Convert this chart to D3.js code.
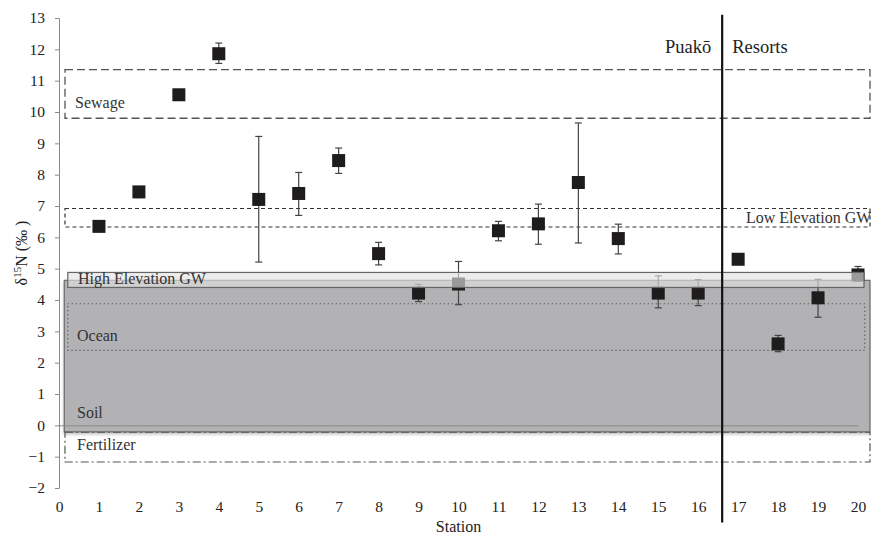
<!DOCTYPE html>
<html>
<head>
<meta charset="utf-8">
<script src="https://cdn.jsdelivr.net/npm/d3@7"></script>
<style>
  body { margin: 0; background: #fff; }
  svg { display: block; font-family: "Liberation Serif", "Times New Roman", serif; }
  .axis path, .axis line { stroke: #8a8a8a; }
  .axis text { font-family: "Liberation Serif", serif; font-size: 15.5px; fill: #222; }
</style>
</head>
<body>
<svg width="871" height="536"></svg>
<script>
// station values (delta 15N, per mil) with error bar ends, null = no bar
var stations = [1, 2, 3, 4, 5, 6, 7, 8, 9, 10, 11, 12, 13, 14, 15, 16, 17, 18, 19, 20];
var d15N    = [6.35, 7.45, 10.55, 11.86, 7.21, 7.4, 8.45, 5.48, 4.22, 4.51, 6.21, 6.43, 7.75, 5.96, 4.22, 4.22, 5.3, 2.6, 4.07, 4.8];
var errLow  = [null, 7.27, null, 11.55, 5.21, 6.7, 8.04, 5.12, 3.95, 3.85, 5.89, 5.78, 5.82, 5.47, 3.75, 3.82, null, 2.35, 3.45, 4.6];
var errHigh = [null, 7.6, null, 12.2, 9.22, 8.07, 8.85, 5.84, 4.5, 5.23, 6.51, 7.06, 9.65, 6.42, 4.77, 4.65, null, 2.87, 4.66, 5.07];

// source ranges (y from low to high, x from start to end)
var sources   = ["Sewage", "Low Elevation GW", "Fertilizer", "Soil", "Ocean", "High Elevation GW"];
var srcLow    = [9.8, 6.33, -1.17, -0.21, 2.39, 4.4];
var srcHigh   = [11.35, 6.92, -0.22, 4.63, 3.88, 4.88];
var srcStart  = [0.15, 0.15, 0.15, 0.13, 0.22, 0.22];
var srcEnd    = [20.3, 20.3, 20.3, 20.3, 20.17, 20.15];

var yTicks = d3.range(-2, 14);
var xTicks = d3.range(0, 21);
var divider = 16.6;   // Puako / Resorts split

var svg = d3.select("svg");

var x = d3.scaleLinear().domain([0, 20]).range([59, 858]);
var y = d3.scaleLinear().domain([-2, 13]).range([488, 18]);

function box(i) {
  return svg.append("rect")
    .attr("x", x(srcStart[i]))
    .attr("y", y(srcHigh[i]))
    .attr("width", x(srcEnd[i]) - x(srcStart[i]))
    .attr("height", y(srcLow[i]) - y(srcHigh[i]));
}

// soil (grey band) with a soft shadow
var defs = svg.append("defs");
var f = defs.append("filter").attr("id", "shadow").attr("height", "130%");
f.append("feDropShadow").attr("dx", 0).attr("dy", 2).attr("stdDeviation", 1.5)
  .attr("flood-color", "#000").attr("flood-opacity", 0.25);

box(3).attr("fill", "#b2b2b4").attr("stroke", "#5a5a5a").attr("stroke-width", 1)
  .attr("filter", "url(#shadow)");

// dashed source boxes
box(0).attr("fill", "none").attr("stroke", "#555").attr("stroke-width", 1.3).attr("stroke-dasharray", "8,4");
box(1).attr("fill", "none").attr("stroke", "#333").attr("stroke-width", 1.2).attr("stroke-dasharray", "4,3");
box(2).attr("fill", "none").attr("stroke", "#555").attr("stroke-width", 1.2).attr("stroke-dasharray", "8,3,2,3");
box(4).attr("fill", "none").attr("stroke", "#444").attr("stroke-width", 1.2).attr("stroke-dasharray", "1,3");

// y axis
svg.append("g")
    .attr("class", "axis axis--y")
    .attr("transform", "translate(" + x(0) + ",0)")
    .call(d3.axisLeft(y).tickValues(yTicks).tickSize(4).tickPadding(10).tickSizeOuter(0).tickFormat(d3.format("d")));

// x axis sits on zero, labels pushed down to the bottom
var gx = svg.append("g")
    .attr("class", "axis axis--x")
    .attr("transform", "translate(0," + y(0) + ")")
    .call(d3.axisBottom(x).tickValues(xTicks).tickSize(0).tickSizeOuter(0));
gx.selectAll("text").attr("y", y(-2) - y(0) + 13);

// error bars
var pts = stations.map(function(s, i) {
  return {s: s, v: d15N[i], lo: errLow[i], hi: errHigh[i]};
});
var bars = svg.append("g").selectAll("g")
  .data(pts.filter(function(d) { return d.lo != null; }))
  .enter().append("g")
    .attr("stroke", "#444").attr("stroke-width", 1.2);
bars.append("line")
    .attr("x1", function(d) { return x(d.s); })
    .attr("x2", function(d) { return x(d.s); })
    .attr("y1", function(d) { return y(d.lo); })
    .attr("y2", function(d) { return y(d.hi); });
bars.append("line")
    .attr("x1", function(d) { return x(d.s) - 3.5; })
    .attr("x2", function(d) { return x(d.s) + 3.5; })
    .attr("y1", function(d) { return y(d.lo); })
    .attr("y2", function(d) { return y(d.lo); });
bars.append("line")
    .attr("x1", function(d) { return x(d.s) - 3.5; })
    .attr("x2", function(d) { return x(d.s) + 3.5; })
    .attr("y1", function(d) { return y(d.hi); })
    .attr("y2", function(d) { return y(d.hi); });

// square markers
svg.append("g").selectAll("rect")
  .data(pts)
  .enter().append("rect")
    .attr("x", function(d) { return x(d.s) - 6.5; })
    .attr("y", function(d) { return y(d.v) - 6.5; })
    .attr("width", 13)
    .attr("height", 13)
    .attr("fill", "#1e1c1d");

// high elevation GW: translucent band on top of the markers
box(5).attr("fill", "rgb(225,225,225)").attr("fill-opacity", 0.64)
  .attr("stroke", "#666").attr("stroke-width", 1.2);

// source labels
var labelX = [75, 746, 77, 77, 77, 78];
var labelY = [108, 223, 450, 418, 341, 284];
svg.append("g").selectAll("text")
  .data(sources)
  .enter().append("text")
    .attr("x", function(d, i) { return labelX[i]; })
    .attr("y", function(d, i) { return labelY[i]; })
    .attr("font-size", 16)
    .attr("fill", "#333")
    .text(function(d) { return d; });

// divider between Puako and Resorts
svg.append("line")
    .attr("x1", x(divider)).attr("x2", x(divider))
    .attr("y1", y(13.1)).attr("y2", y(-3.1))
    .attr("stroke", "#111").attr("stroke-width", 2.2);

svg.append("text")
    .attr("x", x(divider) - 11).attr("y", 53)
    .attr("text-anchor", "end").attr("font-size", 18.5).attr("fill", "#222")
    .text("Puakō");
svg.append("text")
    .attr("x", x(divider) + 10).attr("y", 53)
    .attr("font-size", 18.5).attr("fill", "#222")
    .text("Resorts");

// axis titles
svg.append("text")
    .attr("x", (x(0) + x(20)) / 2).attr("y", 532)
    .attr("text-anchor", "middle").attr("font-size", 16).attr("fill", "#222")
    .text("Station");

var yt = svg.append("text")
    .attr("transform", "translate(27,253) rotate(-90)")
    .attr("text-anchor", "middle").attr("font-size", 16).attr("fill", "#222");
yt.append("tspan").text("δ");
yt.append("tspan").attr("font-size", 11).attr("dy", -6).text("15");
yt.append("tspan").attr("dy", 6).text("N (‰ )");
</script>
</body>
</html>
